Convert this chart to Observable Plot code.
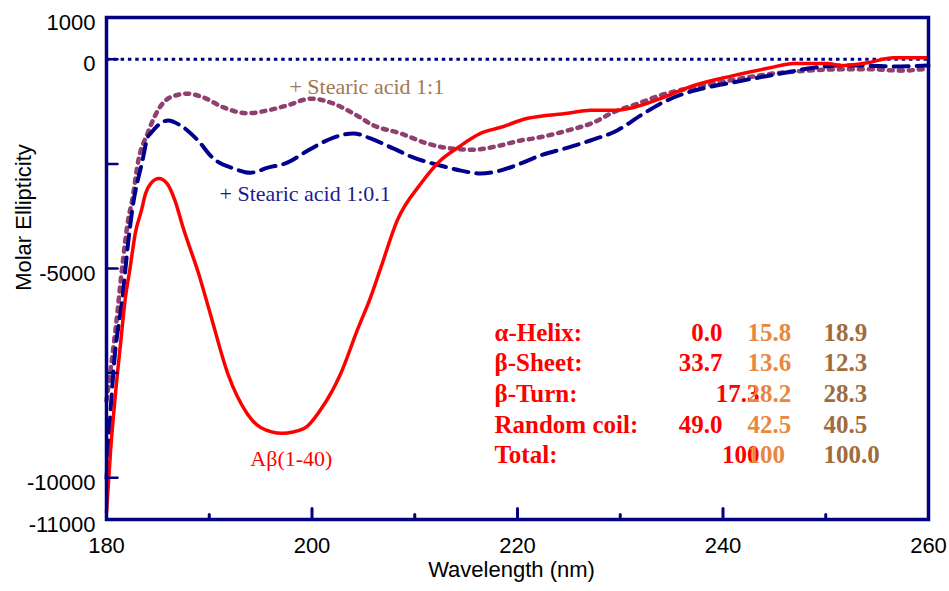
<!DOCTYPE html>
<html>
<head>
<meta charset="utf-8">
<script src="https://cdn.jsdelivr.net/npm/d3@7"></script>
<script src="https://cdn.jsdelivr.net/npm/@observablehq/plot@0.6"></script>
<style>
  html, body { margin: 0; padding: 0; background: #fff; }
  #chart { width: 949px; height: 591px; }
</style>
</head>
<body>
<div id="chart"></div>
<script>
// ---- Data (wavelength nm, molar ellipticity) ----
const abeta = [
  [180.0,-10830],[180.4,-9350],[180.9,-7920],[181.4,-6720],[181.8,-5770],[182.3,-4980],
  [182.8,-4160],[183.4,-3610],[183.8,-3210],[184.3,-2970],[185.1,-2850],[185.9,-2970],
  [186.7,-3400],[187.4,-3980],[189.0,-5150],[190.1,-6080],[191.8,-7510],[193.7,-8470],
  [195.0,-8800],[197.1,-8940],[199.2,-8830],[200.8,-8390],[202.8,-7510],[204.4,-6480],
  [205.7,-5690],[206.7,-4980],[208.3,-3850],[210.6,-2970],[212.5,-2420],[214.2,-2110],
  [216.4,-1770],[218.3,-1630],[221.0,-1410],[224.9,-1290],[227.1,-1220],[229.3,-1220],
  [231.3,-1150],[233.9,-940],[237.1,-630],[241.0,-390],[244.6,-200],[246.9,-100],
  [250.2,-100],[251.4,-150],[254.1,-80],[256.6,40],[260.0,40]
];
const stearic01 = [
  [180.0,-10020],[180.7,-7370],[181.6,-5600],[182.1,-4400],[182.5,-3610],[183.5,-2420],
  [184.0,-1870],[184.3,-1770],[186.0,-1460],[187.2,-1580],[188.9,-1940],[190.4,-2370],
  [192.4,-2610],[194.0,-2710],[195.7,-2590],[197.6,-2470],[199.6,-2180],[202.1,-1870],
  [204.0,-1770],[205.7,-1890],[207.9,-2130],[209.9,-2350],[212.5,-2540],[214.5,-2660],
  [216.4,-2730],[218.3,-2660],[220.3,-2490],[222.2,-2300],[224.9,-2110],[227.1,-1940],
  [229.7,-1700],[232.0,-1340],[233.9,-1060],[236.2,-820],[238.5,-670],[241.0,-550],
  [243.6,-430],[246.3,-310],[248.8,-200],[251.4,-150],[254.1,-150],[256.6,-170],[260.0,-150]
];
const stearic1 = [
  [180.0,-8160],[180.9,-6410],[181.6,-4810],[182.1,-3850],[182.5,-3370],[183.1,-2420],
  [184.0,-1770],[185.0,-1220],[186.2,-910],[187.9,-820],[189.4,-910],[191.4,-1150],
  [193.7,-1290],[195.7,-1220],[197.6,-1100],[199.9,-940],[202.1,-1060],[204.0,-1290],
  [206.0,-1580],[208.6,-1770],[211.2,-2010],[213.5,-2130],[215.7,-2160],[218.3,-2060],
  [220.3,-1940],[221.6,-1890],[224.9,-1700],[227.4,-1510],[229.3,-1270],[231.7,-1060],
  [233.9,-860],[236.5,-700],[239.1,-580],[241.7,-460],[244.9,-340],[248.2,-270],
  [251.4,-240],[254.6,-240],[257.3,-270],[260.0,-220]
];

// ---- Tick values / labels ----
const yTickLabels = [1000, 0, -5000, -10000, -11000];
const yTickMarks = [1000, 0, -2500, -5000, -7500, -10000];
const xTickLabels = [180, 200, 220, 240, 260];
const xTickMajor = [200, 220, 240];
const xTickMinor = [190, 210, 230, 250];

// ---- Secondary structure table ----
const structures = ["α-Helix:", "β-Sheet:", "β-Turn:", "Random coil:", "Total:"];
const abetaPct = ["0.0", "33.7", "17.3", "49.0", "100"];
const stearic01Pct = ["15.8", "13.6", "28.2", "42.5", "100"];
const stearic1Pct = ["18.9", "12.3", "28.3", "40.5", "100.0"];

// ---- Layout (positions in data units) ----
const rowY = [-6549, -7266, -8007, -8748, -9466];
const labelX = 217.76;
const col1RightX = [239.95, 239.95, 243.55, 239.95, 243.55];
const col2X = 242.38;
const col3X = 249.78;

const red = "#ff0000", navy = "#000080", lineBlue = "#00008c", purple = "#8f3f70";
const orange = "#e8873f", brown = "#a06c3c", labelBrown = "#a07850";

const row = (i, x, text) => ({x, y: rowY[i], text});
const tableLabels = structures.map((s, i) => row(i, labelX, s));
const tableCol1 = abetaPct.map((s, i) => row(i, col1RightX[i], s));
const tableCol2 = stearic01Pct.map((s, i) => row(i, col2X, s));
const tableCol3 = stearic1Pct.map((s, i) => row(i, col3X, s));

const annotations = [
  {x: 197.8, y: -650, text: "+ Stearic acid 1:1", color: labelBrown},
  {x: 191.0, y: -3207, text: "+ Stearic acid 1:0.1", color: "#1c1c8f"},
  {x: 194.0, y: -9542, text: "Aβ(1-40)", color: red}
];

const serif = "'Liberation Serif', 'Times New Roman', serif";
// inward tick shape: a straight segment of the given length
const tickShape = {draw(context, l) { context.moveTo(0, 0); context.lineTo(0, -l); }};
const xMin = 180, yMin = -11000;

const chart = Plot.plot({
  width: 949,
  height: 591,
  marginLeft: 106,
  marginRight: 21,
  marginTop: 17,
  marginBottom: 72,
  x: {domain: [180, 260]},
  y: {domain: [-11000, 1000]},
  style: {fontFamily: "'Liberation Sans', Arial, sans-serif", fontSize: "22px", color: "#000", background: "#fff"},
  marks: [
    Plot.ruleY([0], {stroke: navy, strokeWidth: 3, strokeDasharray: "3.5,3.8"}),
    Plot.line(stearic1, {x: d => d[0], y: d => d[1], stroke: purple, strokeWidth: 4.5, strokeDasharray: "4,6", curve: "monotone-x"}),
    Plot.line(stearic01, {x: d => d[0], y: d => d[1], stroke: lineBlue, strokeWidth: 4, strokeDasharray: "15,8", curve: "monotone-x"}),
    Plot.line(abeta, {x: d => d[0], y: d => d[1], stroke: red, strokeWidth: 3.5, curve: "monotone-x"}),
    Plot.vector(yTickMarks, {x: () => xMin, y: d => d, length: 11, rotate: 90, anchor: "start", shape: tickShape, stroke: navy, strokeWidth: 2.5}),
    Plot.vector(xTickMajor, {x: d => d, y: () => yMin, length: 11, rotate: 0, anchor: "start", shape: tickShape, stroke: navy, strokeWidth: 3}),
    Plot.vector(xTickMinor, {x: d => d, y: () => yMin, length: 5, rotate: 0, anchor: "start", shape: tickShape, stroke: navy, strokeWidth: 3}),
    Plot.frame({stroke: navy, strokeWidth: 3.5}),
    Plot.axisY({ticks: yTickLabels, tickSize: 0, tickPadding: 11, dy: 5, tickFormat: d => String(d), fontSize: 22, label: null}),
    Plot.axisX({ticks: xTickLabels, tickSize: 0, tickPadding: 18, tickFormat: d => String(d), fontSize: 22, label: null}),
    Plot.text(["Molar Ellipticity"], {frameAnchor: "left", textAnchor: "middle", rotate: -90, dx: -83, dy: -51, fontSize: 22, fill: "#000"}),
    Plot.text(["Wavelength (nm)"], {frameAnchor: "bottom", textAnchor: "middle", dx: -6, dy: 57, fontSize: 22, fill: "#000"}),
    Plot.text(annotations, {x: "x", y: "y", text: "text", fill: d => d.color, textAnchor: "start", fontSize: 22, fontFamily: serif}),
    Plot.text(tableLabels, {x: "x", y: "y", text: "text", fill: red, textAnchor: "start", fontSize: 25, fontWeight: "bold", fontFamily: serif}),
    Plot.text(tableCol1, {x: "x", y: "y", text: "text", fill: red, textAnchor: "end", fontSize: 25, fontWeight: "bold", fontFamily: serif}),
    Plot.text(tableCol2, {x: "x", y: "y", text: "text", fill: orange, textAnchor: "start", fontSize: 25, fontWeight: "bold", fontFamily: serif}),
    Plot.text(tableCol3, {x: "x", y: "y", text: "text", fill: brown, textAnchor: "start", fontSize: 25, fontWeight: "bold", fontFamily: serif})
  ]
});
document.getElementById("chart").appendChild(chart);
</script>
</body>
</html>
